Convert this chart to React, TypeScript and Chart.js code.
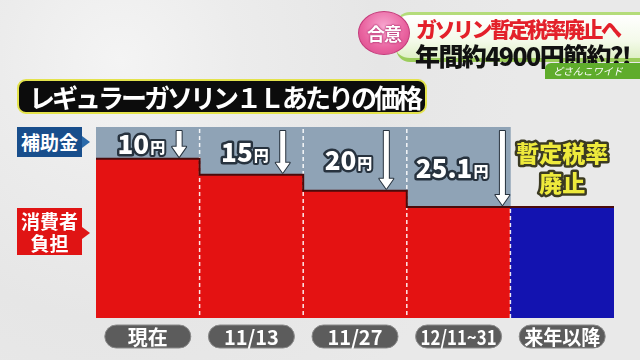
import React, { useEffect, useRef } from "react";
import { Chart, registerables } from "chart.js";

Chart.register(...registerables);

const categories = ["現在", "11/13", "11/27", "12/11~31", "来年以降"];
const consumerBurden = [50, 45, 40, 34.9, 34.9];
const subsidy = [10, 15, 20, 25.1, 0];
const abolitionLines = ["暫定税率", "廃止"];
const yAxisMax = 60;

const RED = "#e41212";
const BLUE = "#1313b0";
const GREY = "#8fa3b6";
const JP = "'Noto Sans CJK JP', 'Noto Sans', sans-serif";

function outlinedText(ctx: CanvasRenderingContext2D, text: string, x: number, y: number, fill: string, stroke: string, lw: number) {
  ctx.lineJoin = "round";
  ctx.lineWidth = lw;
  ctx.strokeStyle = stroke;
  ctx.strokeText(text, x, y);
  ctx.fillStyle = fill;
  ctx.fillText(text, x, y);
}

function roundRect(ctx: CanvasRenderingContext2D, x: number, y: number, w: number, h: number, r: number) {
  ctx.beginPath();
  ctx.moveTo(x + r, y);
  ctx.lineTo(x + w - r, y);
  ctx.arc(x + w - r, y + r, r, -Math.PI / 2, Math.PI / 2);
  ctx.lineTo(x + r, y + h);
  ctx.arc(x + r, y + r, r, Math.PI / 2, (Math.PI * 3) / 2);
  ctx.closePath();
}

const overlayPlugin = {
  id: "overlay",
  afterDatasetsDraw(chart: any) {
    const ctx: CanvasRenderingContext2D = chart.ctx;
    const area = chart.chartArea;
    const red = chart.getDatasetMeta(0).data;
    const grey = chart.getDatasetMeta(1).data;
    const n = red.length;
    ctx.save();

    // dashed separators
    ctx.strokeStyle = "rgba(255,255,255,0.9)";
    ctx.lineWidth = 1.5;
    ctx.setLineDash([4, 3]);
    for (let i = 1; i < n; i++) {
      const left = red[i].x - red[i].width / 2;
      const top =
        subsidy[i - 1] > 0 && subsidy[i] > 0
          ? Math.min(grey[i - 1].y, grey[i].y)
          : Math.max(red[i - 1].y, red[i].y);
      ctx.beginPath();
      ctx.moveTo(left, top + 2);
      ctx.lineTo(left, area.bottom);
      ctx.stroke();
    }
    ctx.setLineDash([]);

    // step line along consumer burden tops
    ctx.strokeStyle = "#4a0b0b";
    ctx.lineWidth = 2;
    ctx.beginPath();
    for (let i = 0; i < n; i++) {
      const l = red[i].x - red[i].width / 2;
      const r = red[i].x + red[i].width / 2;
      if (i === 0) ctx.moveTo(l, red[i].y);
      else ctx.lineTo(l, red[i].y);
      ctx.lineTo(r, red[i].y);
    }
    ctx.stroke();

    // subsidy labels and arrows
    ctx.textBaseline = "middle";
    ctx.textAlign = "left";
    for (let i = 0; i < n; i++) {
      const bx = red[i].x;
      if (subsidy[i] > 0) {
        const gTop = grey[i].y;
        const rTop = red[i].y;
        const mid = (gTop + rTop) / 2 + 1;
        const num = String(subsidy[i]);
        const numFont = `900 26px ${JP}`;
        const yenFont = `900 15px ${JP}`;
        ctx.font = numFont;
        const numW = ctx.measureText(num).width;
        ctx.font = yenFont;
        const yenW = ctx.measureText("円").width;
        const headW = 14;
        const gap = 8;
        const groupW = numW + yenW + gap + headW;
        const sx = bx - groupW / 2 + 4;
        ctx.font = numFont;
        outlinedText(ctx, num, sx, mid, "#ffffff", "#27323e", 5);
        ctx.font = yenFont;
        outlinedText(ctx, "円", sx + numW + 1, mid + 3, "#ffffff", "#27323e", 4);
        // arrow
        const ax = sx + numW + yenW + gap + headW / 2;
        const top = gTop + 4;
        const bottom = rTop - 2;
        const sw = 2.5;
        const hh = 10;
        ctx.beginPath();
        ctx.moveTo(ax - sw, top);
        ctx.lineTo(ax + sw, top);
        ctx.lineTo(ax + sw, bottom - hh);
        ctx.lineTo(ax + headW / 2, bottom - hh);
        ctx.lineTo(ax, bottom);
        ctx.lineTo(ax - headW / 2, bottom - hh);
        ctx.lineTo(ax - sw, bottom - hh);
        ctx.closePath();
        ctx.lineJoin = "round";
        ctx.lineWidth = 2;
        ctx.strokeStyle = "#27323e";
        ctx.stroke();
        ctx.fillStyle = "#ffffff";
        ctx.fill();
      } else {
        ctx.textAlign = "center";
        ctx.font = `900 23px ${JP}`;
        abolitionLines.forEach((line, k) => {
          outlinedText(ctx, line, bx, area.top + 26 + k * 30, "#eeea3c", "#3b3a22", 5);
        });
        ctx.textAlign = "left";
      }
    }

    // category pills
    ctx.textAlign = "center";
    for (let i = 0; i < n; i++) {
      const bx = red[i].x;
      const w = 86;
      const h = 23;
      const y = area.bottom + 7;
      roundRect(ctx, bx - w / 2, y, w, h, h / 2);
      ctx.fillStyle = "#5c5c5c";
      ctx.fill();
      ctx.lineWidth = 1;
      ctx.strokeStyle = "#8a8a8a";
      ctx.stroke();
      ctx.fillStyle = "#ffffff";
      ctx.font = `700 20px ${JP}`;
      const tw = ctx.measureText(categories[i]).width;
      const maxW = 76;
      const sc = tw > maxW ? maxW / tw : 1;
      ctx.save();
      ctx.translate(bx, y + h / 2 + 1);
      ctx.scale(sc, 1);
      ctx.fillText(categories[i], 0, 0);
      ctx.restore();
    }
    ctx.restore();
  },
};

export default function App() {
  const ref = useRef<HTMLCanvasElement>(null);

  useEffect(() => {
    const chart = new Chart(ref.current as HTMLCanvasElement, {
      type: "bar",
      data: {
        labels: categories,
        datasets: [
          {
            label: "消費者負担",
            data: consumerBurden,
            backgroundColor: subsidy.map((s) => (s > 0 ? RED : BLUE)),
            borderWidth: 0,
            stack: "s",
          },
          {
            label: "補助金",
            data: subsidy,
            backgroundColor: GREY,
            borderWidth: 0,
            stack: "s",
          },
        ],
      },
      options: {
        responsive: false,
        animation: false,
        layout: { padding: { left: 96, right: 26, top: 127, bottom: 42 } },
        plugins: { legend: { display: false }, tooltip: { enabled: false } },
        datasets: { bar: { barPercentage: 1, categoryPercentage: 1 } },
        scales: {
          x: { display: false, stacked: true },
          y: { display: false, stacked: true, min: 0, max: yAxisMax },
        },
      },
      plugins: [overlayPlugin],
    });
    return () => chart.destroy();
  }, []);

  const abs = (s: React.CSSProperties): React.CSSProperties => ({ position: "absolute", ...s });

  return (
    <div
      style={{
        position: "fixed",
        left: 0,
        top: 0,
        width: 640,
        height: 360,
        overflow: "hidden",
        fontFamily: JP,
        background:
          "radial-gradient(circle at 120px 60px, #f4f4f4 0, #ececec 120px, #e6e6e6 260px, #e9e9e9 400px)",
      }}
    >
      <canvas ref={ref} width={640} height={360} style={{ position: "absolute", left: 0, top: 0 }} />

      {/* title */}
      <div
        style={abs({
          left: 17,
          top: 79,
          width: 396,
          height: 31,
          background: "#0c0c0c",
          border: "2.5px solid #e4e34c",
          borderRadius: 9,
          color: "#fff",
          fontWeight: 700,
          fontSize: 26,
          lineHeight: "31px",
          letterSpacing: -3,
          paddingLeft: 10,
          boxSizing: "content-box",
          whiteSpace: "nowrap",
        })}
      >
        レギュラーガソリン１Ｌあたりの価格
      </div>

      {/* side labels */}
      <div
        style={abs({
          left: 17,
          top: 127,
          width: 65,
          height: 30,
          background: "#184e8c",
          color: "#fff",
          fontWeight: 700,
          fontSize: 19,
          lineHeight: "30px",
          textAlign: "center",
        })}
      >
        補助金
      </div>
      <div
        style={abs({
          left: 82,
          top: 136,
          width: 0,
          height: 0,
          borderTop: "6px solid transparent",
          borderBottom: "6px solid transparent",
          borderLeft: "8px solid #2a6aaa",
        })}
      />
      <div
        style={abs({
          left: 17,
          top: 208,
          width: 65,
          height: 47,
          background: "#e01414",
          color: "#fff",
          fontWeight: 700,
          fontSize: 19,
          lineHeight: "22px",
          paddingTop: 2,
          boxSizing: "border-box",
          textAlign: "center",
        })}
      >
        消費者
        <br />
        負担
      </div>
      <div
        style={abs({
          left: 82,
          top: 227,
          width: 0,
          height: 0,
          borderTop: "6px solid transparent",
          borderBottom: "6px solid transparent",
          borderLeft: "8px solid #e01414",
        })}
      />

      {/* top-right banner */}
      <div
        style={abs({
          left: 396,
          top: 12,
          width: 250,
          height: 43,
          background: "linear-gradient(to bottom, #ffffff 0%, #f4faea 60%, #dff0c6 100%)",
          borderTop: "3px solid #b4dc7a",
          borderBottom: "4px solid #9ccd5c",
          borderRadius: "14px 0 0 14px",
        })}
      />
      <div
        style={abs({
          left: 416,
          top: 15,
          color: "#e3202a",
          fontWeight: 900,
          fontSize: 21,
          letterSpacing: -2.5,
          lineHeight: "26px",
          whiteSpace: "nowrap",
        })}
      >
        ガソリン暫定税率廃止へ
      </div>
      <div
        style={abs({
          left: 415,
          top: 41,
          color: "#111",
          fontWeight: 900,
          fontSize: 25,
          letterSpacing: -1.6,
          lineHeight: "29px",
          whiteSpace: "nowrap",
        })}
      >
        年間約4900円節約?!
      </div>
      <div
        style={abs({
          left: 358,
          top: 11,
          width: 50,
          height: 42,
          borderRadius: "50%",
          background: "radial-gradient(circle at 50% 35%, #f7a6cf 0%, #e9629f 60%, #d34586 100%)",
          border: "1.5px solid #c43a7a",
          color: "#fff",
          fontWeight: 700,
          fontSize: 18,
          lineHeight: "42px",
          textAlign: "center",
          letterSpacing: -1,
          textShadow: "0 0 2px #b02c6c, 0 0 2px #b02c6c",
        })}
      >
        合意
      </div>
      <div
        style={abs({
          left: 545,
          top: 63,
          width: 95,
          height: 16,
          background: "#5fac2c",
          borderRadius: "6px 0 0 0",
          color: "#fff",
          fontSize: 10,
          lineHeight: "16px",
          paddingLeft: 8,
          fontStyle: "italic",
          whiteSpace: "nowrap",
        })}
      >
        どさんこワイド
      </div>
    </div>
  );
}
